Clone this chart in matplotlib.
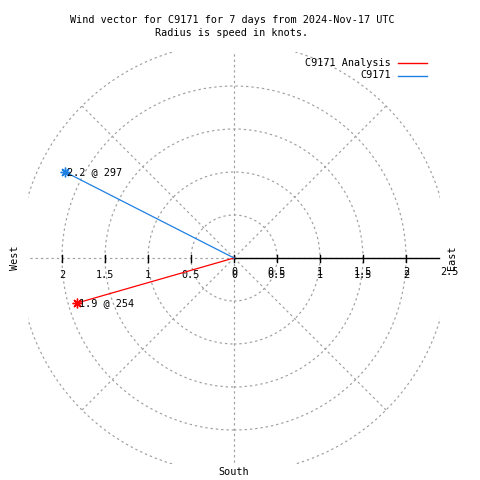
import numpy as np
import matplotlib
matplotlib.use("Agg")
import matplotlib.pyplot as plt
from matplotlib.patches import Circle, Rectangle
from matplotlib.lines import Line2D

plt.rcParams['font.family'] = 'DejaVu Sans Mono'
plt.rcParams['font.size'] = 7.3

# ---- data: wind vectors (speed in knots, direction in degrees) ----
series = ["C9171 Analysis", "C9171"]
speed = [1.9, 2.2]
direction = [254, 297]
colors = ["#ff0000", "#1e80e2"]

ring_radii = [0.5, 1.0, 1.5, 2.0, 2.5]
xtick_vals = [-2, -1.5, -1, -0.5, 0, 0.5, 1, 1.5, 2]
rtick_vals = [0, 0.5, 1, 1.5, 2, 2.5]
RMAX = 2.4
PX = 86.0   # pixels per knot

title = "Wind vector for C9171 for 7 days from 2024-Nov-17 UTC\nRadius is speed in knots."

fig = plt.figure(figsize=(4.8, 4.8), dpi=100)
ax = fig.add_axes([0, 0, 1, 1])
ax.set_xlim(-234/PX, 246/PX)
ax.set_ylim(-222/PX, 258/PX)
ax.axis('off')

clip = Rectangle((-RMAX, -RMAX), 2*RMAX, 2*RMAX, transform=ax.transData)
grid_kw = dict(color="#a0a0a0", lw=0.85, ls=(0, (2, 2.5)))

# polar grid: rings and spokes
for r in ring_radii:
    c = Circle((0, 0), r, fill=False, ec=grid_kw["color"], lw=grid_kw["lw"],
               ls=grid_kw["ls"], zorder=1)
    ax.add_patch(c)
    c.set_clip_path(clip)
for a in range(0, 360, 45):
    t = np.radians(a)
    ln, = ax.plot([0, 2.5*np.cos(t)], [0, 2.5*np.sin(t)], zorder=1, **grid_kw)
    ln.set_clip_path(clip)

# r axis (solid, to the east) with tics
ax.plot([0, RMAX - 0.02], [0, 0], color="black", lw=1, zorder=2)
for v in xtick_vals:
    ax.plot([v, v], [-3.5/PX, 3.5/PX], color="black", lw=1, zorder=2)
    ax.text(v, -17/PX, f"{abs(v):g}", ha='center', va='center')
for v in rtick_vals:
    ax.text(v, -14/PX, f"{v:g}", ha='center', va='center')

# wind vectors
for name, s, d, c in zip(series, speed, direction, colors):
    th = np.radians(d)
    x, y = s*np.sin(th), s*np.cos(th)
    ax.plot([0, x], [0, y], color=c, lw=0.9, zorder=3)
    ax.plot(x, y, marker=(8, 2, 0), ms=7, mew=1, color=c, zorder=4)
    ax.text(x + 2/PX, y, f"{s:g} @ {d}", ha='left', va='center', zorder=5)

# compass labels
ax.text(-219/PX, 0, "West", rotation=90, ha='center', va='center')
ax.text(218/PX, 0, "East", rotation=90, ha='center', va='center')
ax.text(0, -214/PX, "South", ha='center', va='center')

# title
fig.text(232/480, 1 - 26.5/480, title, ha='center', va='center', linespacing=1.3)

# legend (gnuplot style: label right-aligned, sample to its right)
for i, (name, c) in enumerate(zip(series, colors)):
    yy = 1 - (63 + 12.5*i)/480
    fig.text(391/480, yy, name, ha='right', va='center')
    fig.add_artist(Line2D([398/480, 427/480], [yy, yy], color=c, lw=1))

fig.savefig("out.png", dpi=100)
